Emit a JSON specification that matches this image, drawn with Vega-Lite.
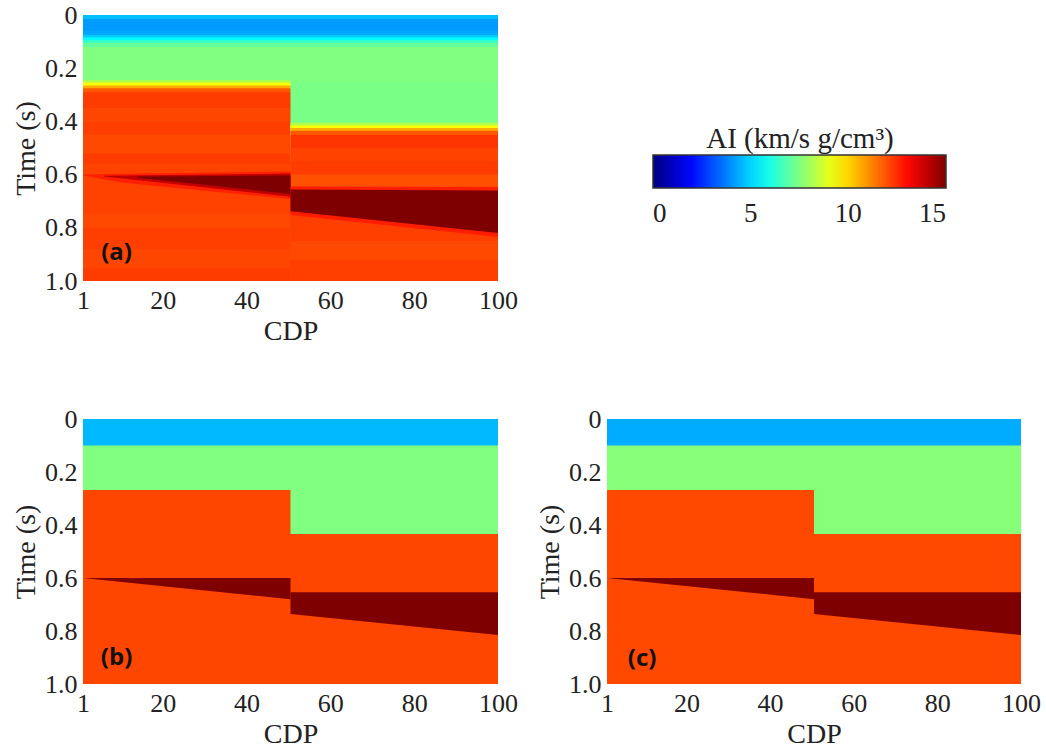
{
  "$schema": "https://vega.github.io/schema/vega-lite/v6.json",
  "background": "white",
  "padding": {"left": 12, "top": 2, "right": 5, "bottom": 5},
  "datasets": {
    "rects": [
      {"p": "a", "c0": 1, "c1": 100, "t0": 0, "ai": 4.7},
      {"p": "a", "c0": 1, "c1": 100, "t0": 0.015, "ai": 4.15},
      {"p": "a", "c0": 1, "c1": 100, "t0": 0.06, "ai": 4.35},
      {"p": "a", "c0": 1, "c1": 100, "t0": 0.075, "ai": 4.9},
      {"p": "a", "c0": 1, "c1": 100, "t0": 0.085, "ai": 5.7},
      {"p": "a", "c0": 1, "c1": 100, "t0": 0.095, "ai": 6.5},
      {"p": "a", "c0": 1, "c1": 100, "t0": 0.105, "ai": 7.1},
      {"p": "a", "c0": 1, "c1": 100, "t0": 0.12, "ai": 7.5},
      {"p": "a", "c0": 1, "c1": 100, "t0": 0.245, "ai": 8.3},
      {"p": "a", "c0": 1, "c1": 100, "t0": 0.255, "ai": 9.3},
      {"p": "a", "c0": 1, "c1": 100, "t0": 0.265, "ai": 10.6},
      {"p": "a", "c0": 1, "c1": 100, "t0": 0.275, "ai": 11.8},
      {"p": "a", "c0": 1, "c1": 100, "t0": 0.29, "ai": 12.25},
      {"p": "a", "c0": 1, "c1": 100, "t0": 0.35, "ai": 12.1},
      {"p": "a", "c0": 1, "c1": 100, "t0": 0.4, "ai": 12.2},
      {"p": "a", "c0": 1, "c1": 100, "t0": 0.45, "ai": 12.05},
      {"p": "a", "c0": 1, "c1": 100, "t0": 0.52, "ai": 12.25},
      {"p": "a", "c0": 1, "c1": 100, "t0": 0.56, "ai": 12.15},
      {"p": "a", "c0": 1, "c1": 100, "t0": 0.75, "ai": 12.05},
      {"p": "a", "c0": 1, "c1": 100, "t0": 0.8, "ai": 12.2},
      {"p": "a", "c0": 1, "c1": 100, "t0": 0.88, "ai": 12.1},
      {"p": "a", "c0": 1, "c1": 100, "t0": 0.95, "ai": 12.25},
      {"p": "a", "c0": 50.5, "c1": 100, "t0": 0.245, "ai": 7.4},
      {"p": "a", "c0": 50.5, "c1": 100, "t0": 0.405, "ai": 8.3},
      {"p": "a", "c0": 50.5, "c1": 100, "t0": 0.415, "ai": 9.3},
      {"p": "a", "c0": 50.5, "c1": 100, "t0": 0.425, "ai": 10.6},
      {"p": "a", "c0": 50.5, "c1": 100, "t0": 0.435, "ai": 11.8},
      {"p": "a", "c0": 50.5, "c1": 100, "t0": 0.45, "ai": 12.35},
      {"p": "a", "c0": 50.5, "c1": 100, "t0": 0.5, "ai": 12.15},
      {"p": "a", "c0": 50.5, "c1": 100, "t0": 0.55, "ai": 12.25},
      {"p": "a", "c0": 50.5, "c1": 100, "t0": 0.6, "ai": 11.95},
      {"p": "a", "c0": 50.5, "c1": 100, "t0": 0.645, "ai": 12.2},
      {"p": "a", "c0": 50.5, "c1": 100, "t0": 0.85, "ai": 12.05},
      {"p": "a", "c0": 50.5, "c1": 100, "t0": 0.92, "ai": 12.2},
      {"p": "b", "c0": 1, "c1": 100, "t0": 0, "ai": 4.6},
      {"p": "b", "c0": 1, "c1": 100, "t0": 0.1, "ai": 7.5},
      {"p": "b", "c0": 1, "c1": 100, "t0": 0.434, "ai": 12.1},
      {"p": "b", "c0": 1, "c1": 50.5, "t0": 0.268, "ai": 12.1},
      {"p": "c", "c0": 1, "c1": 100, "t0": 0, "ai": 4.4},
      {"p": "c", "c0": 1, "c1": 100, "t0": 0.1, "ai": 7.6},
      {"p": "c", "c0": 1, "c1": 100, "t0": 0.434, "ai": 12.05},
      {"p": "c", "c0": 1, "c1": 50.5, "t0": 0.268, "ai": 12.05}
    ],
    "wedges": [
      {"p": "a", "w": "a1", "cdp": 1, "top": 0.6, "bot": 0.603, "ai": 12.65},
      {"p": "a", "w": "a1", "cdp": 10, "top": 0.597, "bot": 0.63, "ai": 12.65},
      {"p": "a", "w": "a1", "cdp": 50.5, "top": 0.588, "bot": 0.692, "ai": 12.65},
      {"p": "a", "w": "a2", "cdp": 6, "top": 0.604, "bot": 0.607, "ai": 14.0},
      {"p": "a", "w": "a2", "cdp": 50.5, "top": 0.596, "bot": 0.683, "ai": 14.0},
      {"p": "a", "w": "a3", "cdp": 14, "top": 0.607, "bot": 0.612, "ai": 15},
      {"p": "a", "w": "a3", "cdp": 50.5, "top": 0.603, "bot": 0.673, "ai": 15},
      {"p": "a", "w": "a4", "cdp": 50.5, "top": 0.645, "bot": 0.752, "ai": 12.7},
      {"p": "a", "w": "a4", "cdp": 100, "top": 0.648, "bot": 0.835, "ai": 12.7},
      {"p": "a", "w": "a5", "cdp": 50.5, "top": 0.656, "bot": 0.738, "ai": 15},
      {"p": "a", "w": "a5", "cdp": 100, "top": 0.66, "bot": 0.82, "ai": 15},
      {"p": "b", "w": "b1", "cdp": 1, "top": 0.6, "bot": 0.6, "ai": 15},
      {"p": "b", "w": "b1", "cdp": 50.5, "top": 0.6, "bot": 0.68, "ai": 15},
      {"p": "b", "w": "b2", "cdp": 50.5, "top": 0.654, "bot": 0.736, "ai": 15},
      {"p": "b", "w": "b2", "cdp": 100, "top": 0.654, "bot": 0.815, "ai": 15},
      {"p": "c", "w": "c1", "cdp": 1, "top": 0.6, "bot": 0.6, "ai": 15},
      {"p": "c", "w": "c1", "cdp": 50.5, "top": 0.6, "bot": 0.68, "ai": 15},
      {"p": "c", "w": "c2", "cdp": 50.5, "top": 0.654, "bot": 0.736, "ai": 15},
      {"p": "c", "w": "c2", "cdp": 100, "top": 0.654, "bot": 0.815, "ai": 15}
    ],
    "labels": [
      {"p": "a", "label": "(a)", "cdp": 9, "t": 0.895},
      {"p": "b", "label": "(b)", "cdp": 9, "t": 0.9},
      {"p": "c", "label": "(c)", "cdp": 9.4, "t": 0.905}
    ]
  },
  "config": {
    "view": {"stroke": null},
    "font": "Liberation Serif",
    "axis": {
      "labelFont": "Liberation Serif", "labelFontSize": 26, "labelColor": "#222",
      "titleFont": "Liberation Serif", "titleFontSize": 28, "titleFontWeight": "normal", "titleColor": "#222",
      "ticks": false, "domain": false, "grid": false, "labelPadding": 6, "labelFlush": false
    },
    "legend": {
      "orient": "none", "legendX": 570, "legendY": 110, "direction": "horizontal",
      "gradientLength": 293, "gradientThickness": 33,
      "gradientStrokeColor": "#333", "gradientStrokeWidth": 1.5,
      "titleFont": "Liberation Serif", "titleFontSize": 29, "titleFontWeight": "normal", "titleColor": "#222",
      "titleAnchor": "middle", "titlePadding": 1, "titleLimit": 500,
      "labelFont": "Liberation Serif", "labelFontSize": 27, "labelColor": "#222"
    }
  },
  "spacing": 61,
  "vconcat": [
    {
      "width": 415, "height": 266,
      "layer": [
        {
          "data": {"name": "rects"},
          "transform": [{"filter": "datum.p == 'a'"}],
          "mark": {"type": "rect"},
          "encoding": {
            "x": {"field": "c0", "type": "quantitative", "scale": {"domain": [1, 100], "nice": false, "zero": false}, "axis": {"values": [1, 20, 40, 60, 80, 100], "title": "CDP"}},
            "x2": {"field": "c1"},
            "y": {"field": "t0", "type": "quantitative", "scale": {"domain": [0, 1], "reverse": true, "nice": false}, "axis": {"values": [0, 0.2, 0.4, 0.6, 0.8, 1], "labelExpr": "datum.value == 0 ? '0' : format(datum.value, '.1f')", "title": "Time (s)"}},
            "y2": {"datum": 1},
            "color": {"field": "ai", "type": "quantitative", "title": "AI (km/s g/cm³)", "scale": {"type": "linear", "domain": [0, 1.875, 5.625, 9.375, 13.125, 15], "range": ["#00007f", "#0000ff", "#00ffff", "#ffff00", "#ff0000", "#7f0000"], "interpolate": "rgb"}, "legend": {"type": "gradient", "values": [0, 5, 10, 15], "labelOffset": 13}}
          }
        },
        {
          "data": {"name": "wedges"},
          "transform": [{"filter": "datum.p == 'a'"}],
          "mark": {"type": "area", "interpolate": "linear"},
          "encoding": {
            "x": {"field": "cdp", "type": "quantitative"},
            "y": {"field": "top", "type": "quantitative"},
            "y2": {"field": "bot"},
            "detail": {"field": "w"},
            "color": {"field": "ai", "type": "quantitative", "title": "AI (km/s g/cm³)", "scale": {"type": "linear", "domain": [0, 1.875, 5.625, 9.375, 13.125, 15], "range": ["#00007f", "#0000ff", "#00ffff", "#ffff00", "#ff0000", "#7f0000"], "interpolate": "rgb"}, "legend": {"type": "gradient", "values": [0, 5, 10, 15], "labelOffset": 13}}
          }
        },
        {
          "data": {"name": "labels"},
          "transform": [{"filter": "datum.p == 'a'"}],
          "mark": {"type": "text", "font": "Open Sans", "fontWeight": "bold", "fontSize": 24, "color": "#111", "align": "center", "baseline": "middle"},
          "encoding": {
            "x": {"field": "cdp", "type": "quantitative"},
            "y": {"field": "t", "type": "quantitative"},
            "text": {"field": "label"}
          }
        }
      ]
    },
    {
      "spacing": 18,
      "hconcat": [
        {
          "width": 415, "height": 265,
          "layer": [
            {
              "data": {"name": "rects"},
              "transform": [{"filter": "datum.p == 'b'"}],
              "mark": {"type": "rect"},
              "encoding": {
                "x": {"field": "c0", "type": "quantitative", "scale": {"domain": [1, 100], "nice": false, "zero": false}, "axis": {"values": [1, 20, 40, 60, 80, 100], "title": "CDP"}},
                "x2": {"field": "c1"},
                "y": {"field": "t0", "type": "quantitative", "scale": {"domain": [0, 1], "reverse": true, "nice": false}, "axis": {"values": [0, 0.2, 0.4, 0.6, 0.8, 1], "labelExpr": "datum.value == 0 ? '0' : format(datum.value, '.1f')", "title": "Time (s)"}},
                "y2": {"datum": 1},
                "color": {"field": "ai", "type": "quantitative", "title": "AI (km/s g/cm³)", "scale": {"type": "linear", "domain": [0, 1.875, 5.625, 9.375, 13.125, 15], "range": ["#00007f", "#0000ff", "#00ffff", "#ffff00", "#ff0000", "#7f0000"], "interpolate": "rgb"}, "legend": {"type": "gradient", "values": [0, 5, 10, 15], "labelOffset": 13}}
              }
            },
            {
              "data": {"name": "wedges"},
              "transform": [{"filter": "datum.p == 'b'"}],
              "mark": {"type": "area", "interpolate": "linear"},
              "encoding": {
                "x": {"field": "cdp", "type": "quantitative"},
                "y": {"field": "top", "type": "quantitative"},
                "y2": {"field": "bot"},
                "detail": {"field": "w"},
                "color": {"field": "ai", "type": "quantitative", "title": "AI (km/s g/cm³)", "scale": {"type": "linear", "domain": [0, 1.875, 5.625, 9.375, 13.125, 15], "range": ["#00007f", "#0000ff", "#00ffff", "#ffff00", "#ff0000", "#7f0000"], "interpolate": "rgb"}, "legend": {"type": "gradient", "values": [0, 5, 10, 15], "labelOffset": 13}}
              }
            },
            {
              "data": {"name": "labels"},
              "transform": [{"filter": "datum.p == 'b'"}],
              "mark": {"type": "text", "font": "Open Sans", "fontWeight": "bold", "fontSize": 24, "color": "#111", "align": "center", "baseline": "middle"},
              "encoding": {
                "x": {"field": "cdp", "type": "quantitative"},
                "y": {"field": "t", "type": "quantitative"},
                "text": {"field": "label"}
              }
            }
          ]
        },
        {
          "width": 414, "height": 265,
          "layer": [
            {
              "data": {"name": "rects"},
              "transform": [{"filter": "datum.p == 'c'"}],
              "mark": {"type": "rect"},
              "encoding": {
                "x": {"field": "c0", "type": "quantitative", "scale": {"domain": [1, 100], "nice": false, "zero": false}, "axis": {"values": [1, 20, 40, 60, 80, 100], "title": "CDP"}},
                "x2": {"field": "c1"},
                "y": {"field": "t0", "type": "quantitative", "scale": {"domain": [0, 1], "reverse": true, "nice": false}, "axis": {"values": [0, 0.2, 0.4, 0.6, 0.8, 1], "labelExpr": "datum.value == 0 ? '0' : format(datum.value, '.1f')", "title": "Time (s)"}},
                "y2": {"datum": 1},
                "color": {"field": "ai", "type": "quantitative", "title": "AI (km/s g/cm³)", "scale": {"type": "linear", "domain": [0, 1.875, 5.625, 9.375, 13.125, 15], "range": ["#00007f", "#0000ff", "#00ffff", "#ffff00", "#ff0000", "#7f0000"], "interpolate": "rgb"}, "legend": {"type": "gradient", "values": [0, 5, 10, 15], "labelOffset": 13}}
              }
            },
            {
              "data": {"name": "wedges"},
              "transform": [{"filter": "datum.p == 'c'"}],
              "mark": {"type": "area", "interpolate": "linear"},
              "encoding": {
                "x": {"field": "cdp", "type": "quantitative"},
                "y": {"field": "top", "type": "quantitative"},
                "y2": {"field": "bot"},
                "detail": {"field": "w"},
                "color": {"field": "ai", "type": "quantitative", "title": "AI (km/s g/cm³)", "scale": {"type": "linear", "domain": [0, 1.875, 5.625, 9.375, 13.125, 15], "range": ["#00007f", "#0000ff", "#00ffff", "#ffff00", "#ff0000", "#7f0000"], "interpolate": "rgb"}, "legend": {"type": "gradient", "values": [0, 5, 10, 15], "labelOffset": 13}}
              }
            },
            {
              "data": {"name": "labels"},
              "transform": [{"filter": "datum.p == 'c'"}],
              "mark": {"type": "text", "font": "Open Sans", "fontWeight": "bold", "fontSize": 24, "color": "#111", "align": "center", "baseline": "middle"},
              "encoding": {
                "x": {"field": "cdp", "type": "quantitative"},
                "y": {"field": "t", "type": "quantitative"},
                "text": {"field": "label"}
              }
            }
          ]
        }
      ]
    }
  ]
}
